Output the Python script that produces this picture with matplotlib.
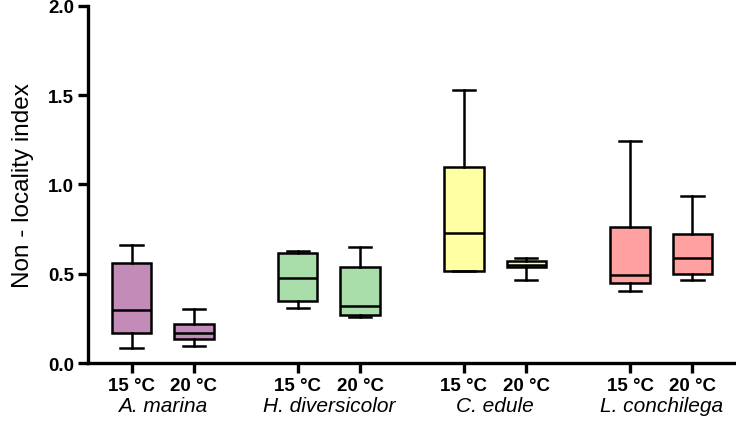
import matplotlib
matplotlib.use("Agg")
import matplotlib.pyplot as plt

plt.rcParams['font.family'] = ['Liberation Sans', 'DejaVu Sans']

species = ["A. marina", "H. diversicolor", "C. edule", "L. conchilega"]
temps = ["15 °C", "20 °C"]
colors = ["#C28BB8", "#A9DEAA", "#FFFFA3", "#FFA1A1"]

# per box: whislo, q1, med, q3, whishi
whislo = [0.086, 0.098, 0.307, 0.259, 0.518, 0.468, 0.403, 0.468]
q1     = [0.168, 0.134, 0.350, 0.272, 0.518, 0.537, 0.451, 0.499]
med    = [0.298, 0.171, 0.477, 0.322, 0.730, 0.551, 0.492, 0.589]
q3     = [0.559, 0.218, 0.619, 0.537, 1.100, 0.574, 0.764, 0.725]
whishi = [0.663, 0.305, 0.630, 0.649, 1.530, 0.589, 1.243, 0.936]

group_gap = 8 / 3
positions = []
for g in range(len(species)):
    positions += [g * group_gap, g * group_gap + 1]

fig = plt.figure(figsize=(7.36, 4.39), dpi=100)
ax = fig.add_axes([0.1196, 0.170, 0.8804, 0.815])

stats = []
for i in range(len(positions)):
    stats.append(dict(whislo=whislo[i], q1=q1[i], med=med[i], q3=q3[i], whishi=whishi[i], fliers=[]))

lw = 1.8
bp = ax.bxp(stats, positions=positions, widths=0.63, patch_artist=True, showfliers=False,
            boxprops=dict(linewidth=lw, edgecolor='black'),
            medianprops=dict(color='black', linewidth=lw),
            whiskerprops=dict(color='black', linewidth=lw),
            capprops=dict(color='black', linewidth=lw),
            capwidths=0.36)
for i, patch in enumerate(bp['boxes']):
    patch.set_facecolor(colors[i // 2])

ax.set_xlim(-0.7, 9.7)
ax.set_ylim(0, 2.0)
ax.set_yticks([0, 0.5, 1.0, 1.5, 2.0])
ax.set_yticklabels(["0.0", "0.5", "1.0", "1.5", "2.0"], fontsize=13.5, fontweight='bold')
ax.set_xticks(positions)
ax.set_xticklabels(temps * len(species), fontsize=13.5, fontweight='bold')
ax.tick_params(axis='both', direction='out', length=7, width=2.4, pad=3)

for s in ['top', 'right']:
    ax.spines[s].set_visible(False)
for s in ['left', 'bottom']:
    ax.spines[s].set_linewidth(2.4)

ax.set_ylabel("Non - locality index", fontsize=17.5, labelpad=10)

for g, name in enumerate(species):
    xc = g * group_gap + 0.5
    ax.text(xc, -0.235, name, transform=ax.transData, ha='center', va='center',
            fontsize=15, style='italic', clip_on=False)

fig.savefig("out.png", dpi=100)
